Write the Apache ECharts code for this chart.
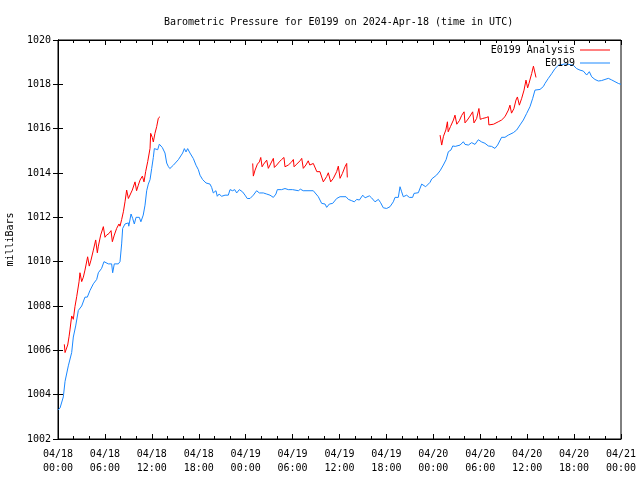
<!DOCTYPE html>
<html>
<head>
<meta charset="utf-8">
<script src="https://cdn.jsdelivr.net/npm/echarts@6/dist/echarts.min.js"></script>
<style>html,body{margin:0;padding:0;background:#fff}#c{width:640px;height:480px}</style>
</head>
<body>
<div id="c"></div>
<script>
var titleText = 'Barometric Pressure for E0199 on 2024-Apr-18 (time in UTC)';
var yTicks = [1002, 1004, 1006, 1008, 1010, 1012, 1014, 1016, 1018, 1020];
var xTickLabels = ['04/18\n00:00','04/18\n06:00','04/18\n12:00','04/18\n18:00','04/19\n00:00','04/19\n06:00','04/19\n12:00','04/19\n18:00','04/20\n00:00','04/20\n06:00','04/20\n12:00','04/20\n18:00','04/21\n00:00'];

// hours since 04/18 00:00 UTC
var blueHours = [0.0,0.26,0.68,0.9,1.32,1.75,1.96,2.26,2.6,3.03,3.45,3.75,4.09,4.52,4.95,5.16,5.58,5.88,6.44,6.86,6.99,7.2,7.71,7.93,8.14,8.27,8.57,9.0,9.05,9.34,9.55,9.76,9.98,10.4,10.6,10.9,11.13,11.34,11.55,11.77,11.98,12.19,12.32,12.75,12.96,13.34,13.68,13.9,14.1,14.3,14.75,15.39,15.94,16.16,16.37,16.58,16.88,17.31,17.65,17.95,18.16,18.5,18.93,19.44,19.65,19.86,20.2,20.37,20.6,20.93,21.36,21.78,22.0,22.33,22.6,22.85,23.19,23.6,23.92,24.2,24.56,24.98,25.4,25.75,26.26,26.69,27.11,27.54,27.87,28.05,28.6,29.03,29.45,30.0,30.74,31.0,31.36,32.65,32.86,33.29,33.72,34.15,34.36,34.7,35.13,35.64,36.07,36.83,37.13,37.56,37.9,38.2,38.54,38.97,39.27,39.82,40.1,40.54,40.75,40.97,41.26,41.6,42.03,42.46,42.88,43.1,43.52,43.74,43.95,44.16,44.59,44.93,45.35,45.53,46.08,46.51,46.72,47.02,47.58,47.79,48.43,48.86,49.28,49.63,49.92,50.26,50.48,50.8,51.0,51.42,51.84,52.05,52.48,52.9,53.33,53.75,54.18,54.6,55.03,55.45,55.88,56.22,56.73,57.16,57.59,58.23,58.66,59.09,59.51,59.94,60.36,60.71,61.0,61.64,62.07,62.28,62.71,63.13,63.56,63.99,64.2,64.84,65.48,65.9,66.33,66.76,67.18,67.61,67.95,68.25,68.67,69.1,69.52,69.95,70.38,70.8,71.23,71.66,72.0];
var bluePressure = [1003.3,1003.4,1003.9,1004.6,1005.3,1005.9,1006.6,1007.1,1007.8,1008.0,1008.4,1008.4,1008.7,1009.0,1009.2,1009.5,1009.7,1010.0,1009.9,1009.9,1009.5,1009.9,1009.9,1010.0,1010.8,1011.5,1011.7,1011.75,1011.6,1012.15,1011.95,1011.7,1012.0,1012.0,1011.8,1012.1,1012.55,1013.2,1013.5,1013.7,1014.2,1014.7,1015.1,1015.05,1015.3,1015.15,1014.9,1014.45,1014.3,1014.2,1014.35,1014.6,1014.9,1015.1,1014.95,1015.1,1014.9,1014.65,1014.35,1014.15,1013.9,1013.7,1013.55,1013.5,1013.35,1013.1,1013.2,1012.95,1013.05,1012.95,1013.0,1013.0,1013.25,1013.2,1013.25,1013.1,1013.25,1013.15,1013.0,1012.85,1012.85,1013.0,1013.2,1013.1,1013.1,1013.05,1013.0,1012.9,1013.05,1013.25,1013.25,1013.3,1013.25,1013.25,1013.2,1013.27,1013.2,1013.2,1013.12,1012.93,1012.63,1012.6,1012.45,1012.6,1012.63,1012.85,1012.93,1012.93,1012.81,1012.75,1012.7,1012.81,1012.78,1013.0,1012.88,1012.97,1012.88,1012.7,1012.66,1012.81,1012.66,1012.43,1012.4,1012.48,1012.7,1012.9,1012.9,1013.38,1013.15,1012.93,1013.0,1012.9,1012.9,1013.08,1013.11,1013.5,1013.48,1013.38,1013.58,1013.73,1013.91,1014.1,1014.36,1014.6,1014.96,1015.04,1015.22,1015.2,1015.29,1015.26,1015.41,1015.29,1015.26,1015.37,1015.29,1015.5,1015.4,1015.34,1015.22,1015.2,1015.11,1015.26,1015.61,1015.61,1015.71,1015.82,1015.94,1016.17,1016.39,1016.69,1016.99,1017.37,1017.74,1017.77,1017.9,1018.04,1018.27,1018.48,1018.71,1018.86,1018.92,1018.92,1018.89,1018.86,1018.71,1018.64,1018.6,1018.42,1018.57,1018.34,1018.22,1018.15,1018.17,1018.22,1018.27,1018.2,1018.12,1018.04,1018.0];

var red1Hours = [0.81,0.9,1.11,1.24,1.41,1.53,1.75,1.96,2.17,2.39,2.69,2.81,3.03,3.24,3.45,3.79,4.0,4.22,4.52,4.82,5.03,5.16,5.46,5.8,6.01,6.22,6.52,6.78,6.95,7.2,7.5,7.8,7.93,8.14,8.36,8.57,8.78,9.0,9.2,9.5,9.85,10.05,10.27,10.49,10.79,11.0,11.21,11.47,11.77,11.85,12.06,12.19,12.4,12.62,12.83,13.04];
var red1Pressure = [1006.27,1005.9,1005.83,1006.24,1006.61,1006.92,1007.55,1007.4,1007.97,1008.42,1009.09,1009.5,1009.1,1009.3,1009.62,1010.22,1009.8,1010.07,1010.52,1010.98,1010.4,1010.7,1011.2,1011.58,1011.1,1011.2,1011.27,1011.4,1010.9,1011.2,1011.5,1011.7,1011.6,1011.9,1012.25,1012.7,1013.23,1012.85,1012.9,1013.23,1013.6,1013.2,1013.45,1013.68,1013.86,1013.6,1014.06,1014.51,1015.11,1015.79,1015.6,1015.4,1015.79,1016.09,1016.47,1016.54];

var red2Hours = [24.9,24.98,25.2,25.5,25.75,25.93,26.1,26.3,26.69,26.9,27.1,27.54,27.67,27.97,28.3,28.6,28.9,29.03,29.45,29.88,30.1,30.19,30.53,30.95,31.17,31.37,31.7,32.0,32.2,32.65,32.9,33.1,33.5,33.7,33.93,34.36,34.57,34.87,35.2,35.64,35.85,36.07,36.37,36.7,36.92,37.0];
var red2Pressure = [1014.43,1013.86,1014.13,1014.4,1014.5,1014.7,1014.28,1014.4,1014.58,1014.21,1014.3,1014.66,1014.25,1014.36,1014.5,1014.61,1014.7,1014.28,1014.36,1014.5,1014.61,1014.28,1014.4,1014.55,1014.66,1014.21,1014.36,1014.55,1014.36,1014.43,1014.46,1014.06,1014.06,1014.0,1013.6,1013.84,1014.01,1013.6,1013.75,1014.06,1014.31,1013.76,1013.98,1014.28,1014.43,1013.8];

var red3Hours = [48.86,49.07,49.3,49.6,49.8,49.9,50.2,50.57,50.77,51.0,51.33,51.63,51.93,52.05,52.35,52.7,53.03,53.2,53.54,53.83,54.0,54.3,54.77,55.03,55.1,55.7,56.3,56.73,57.16,57.6,57.8,58.0,58.3,58.57,58.75,59.0,59.3,59.6,59.85,60.06,60.23,60.58,60.8,60.9,61.13];
var red3Pressure = [1015.71,1015.26,1015.66,1015.94,1016.31,1015.86,1016.1,1016.39,1016.61,1016.2,1016.36,1016.6,1016.76,1016.26,1016.39,1016.57,1016.76,1016.26,1016.46,1016.91,1016.42,1016.46,1016.5,1016.54,1016.17,1016.2,1016.31,1016.39,1016.54,1016.84,1017.06,1016.7,1016.9,1017.29,1017.43,1017.06,1017.37,1017.74,1018.19,1017.84,1018.04,1018.49,1018.82,1018.85,1018.31];

function pairs(xs, ys) { return xs.map(function (x, i) { return [x, ys[i]]; }); }

var FONT = 'DejaVu Sans Mono';
var RED = '#ff0000';
var BLUE = '#1a88ff';

var chart = echarts.init(document.getElementById('c'), null, { renderer: 'canvas' });
var redLine = { type: 'line', name: 'E0199 Analysis', symbol: 'none', showSymbol: false,
  lineStyle: { color: RED, width: 1 }, itemStyle: { color: RED }, xAxisIndex: 0, yAxisIndex: 0 };

chart.setOption({
  animation: false,
  backgroundColor: '#fff',
  title: { text: titleText, left: 159, top: 12, textStyle: { fontFamily: FONT, fontSize: 10, fontWeight: 'normal', color: '#000' } },
  legend: {
    data: ['E0199 Analysis', 'E0199'], orient: 'vertical', right: 30, top: 44, padding: 0, align: 'right',
    itemWidth: 30, itemHeight: 1, itemGap: 1, icon: 'rect', selectedMode: false,
    formatter: function (name) { var s = name; while (s.length < 14) { s = ' ' + s; } return s; },
    textStyle: { fontFamily: FONT, fontSize: 10, color: '#000', lineHeight: 12 }
  },
  grid: { left: 58, right: 19, top: 40, bottom: 41, show: true, borderColor: '#000', borderWidth: 1,
    containLabel: false, outerBoundsMode: 'none' },
  xAxis: [
    { type: 'value', min: 0, max: 72, interval: 6, position: 'bottom',
      axisLine: { show: true, lineStyle: { color: '#000', width: 1 } },
      axisTick: { show: true, inside: true, length: 5, lineStyle: { color: '#000' } },
      minorTick: { show: true, splitNumber: 3, length: 3, lineStyle: { color: '#000' } },
      splitLine: { show: false },
      axisLabel: { margin: 8, lineHeight: 14, fontFamily: FONT, fontSize: 10, color: '#000',
        formatter: function (v) { return xTickLabels[Math.round(v / 6)]; } } },
    { type: 'value', min: 0, max: 72, interval: 6, position: 'top',
      axisLine: { show: true, lineStyle: { color: '#000' } },
      axisTick: { show: true, inside: true, length: 5, lineStyle: { color: '#000' } },
      minorTick: { show: true, splitNumber: 3, length: 3, lineStyle: { color: '#000' } },
      splitLine: { show: false }, axisLabel: { show: false } }
  ],
  yAxis: [
    { type: 'value', min: yTicks[0], max: yTicks[yTicks.length - 1], interval: 2, position: 'left',
      name: 'milliBars', nameLocation: 'middle', nameGap: 43, nameRotate: 90,
      nameTextStyle: { fontFamily: FONT, fontSize: 10, color: '#000' },
      axisLine: { show: true, lineStyle: { color: '#000' } },
      axisTick: { show: true, inside: true, length: 5, lineStyle: { color: '#000' } },
      splitLine: { show: false },
      axisLabel: { margin: 7, fontFamily: FONT, fontSize: 10, color: '#000',
        formatter: function (v) { return String(v); } } },
    { type: 'value', min: yTicks[0], max: yTicks[yTicks.length - 1], interval: 2, position: 'right',
      axisLine: { show: true, lineStyle: { color: '#000' } },
      axisTick: { show: true, inside: true, length: 5, lineStyle: { color: '#000' } },
      splitLine: { show: false }, axisLabel: { show: false } }
  ],
  series: [
    Object.assign({}, redLine, { data: pairs(red1Hours, red1Pressure) }),
    Object.assign({}, redLine, { data: pairs(red2Hours, red2Pressure) }),
    Object.assign({}, redLine, { data: pairs(red3Hours, red3Pressure) }),
    { type: 'line', name: 'E0199', symbol: 'none', showSymbol: false, xAxisIndex: 0, yAxisIndex: 0,
      lineStyle: { color: BLUE, width: 1 }, itemStyle: { color: BLUE }, data: pairs(blueHours, bluePressure) }
  ]
});
</script>
</body>
</html>
